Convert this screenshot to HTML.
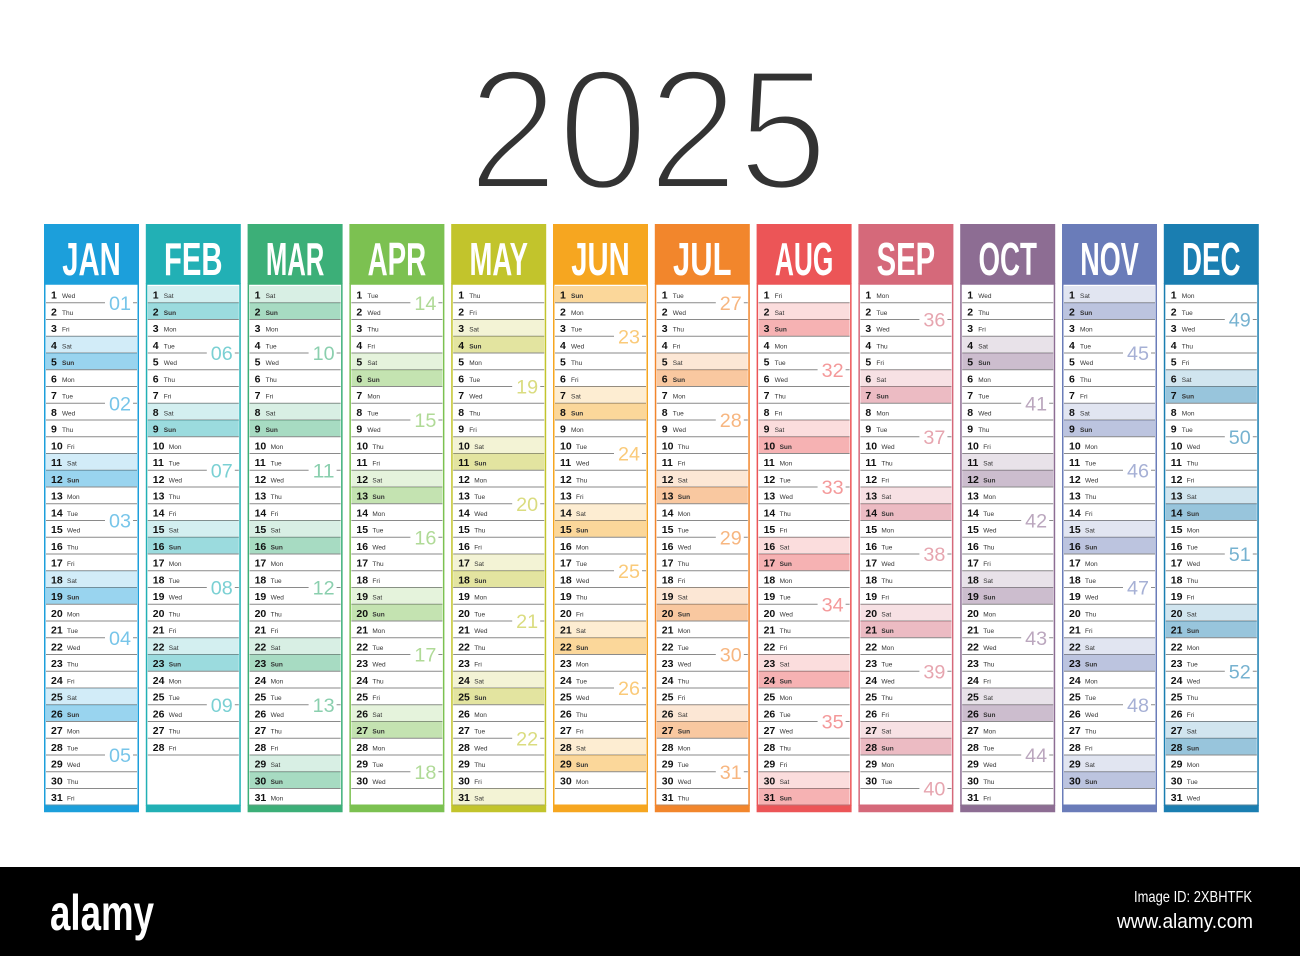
<!DOCTYPE html>
<html><head><meta charset="utf-8">
<style>
html,body{margin:0;padding:0;background:#fff;}
body{width:1300px;height:956px;position:relative;overflow:hidden;font-family:"Liberation Sans",sans-serif;}
</style></head>
<body>
<svg id="cal" width="1300" height="956" viewBox="0 0 1300 956" xmlns="http://www.w3.org/2000/svg">
<text x="648" y="189" text-anchor="middle" font-family="Liberation Sans, sans-serif" font-size="172" fill="#333" stroke="#fff" stroke-width="6" paint-order="normal" textLength="360" lengthAdjust="spacingAndGlyphs">2025</text>
<g id="months"></g>
<rect x="0" y="867" width="1300" height="89" fill="#000"/>
<text x="50" y="930" font-family="Liberation Sans, sans-serif" font-weight="bold" font-size="50" fill="#fff" textLength="104" lengthAdjust="spacingAndGlyphs">alamy</text>
<text x="1252" y="902" text-anchor="end" font-size="16" fill="#fff" textLength="118" lengthAdjust="spacingAndGlyphs">Image ID: 2XBHTFK</text>
<text x="1253" y="928" text-anchor="end" font-size="20" fill="#fff" textLength="136" lengthAdjust="spacingAndGlyphs">www.alamy.com</text>
</svg>
<script>
const monthNames=["JAN","FEB","MAR","APR","MAY","JUN","JUL","AUG","SEP","OCT","NOV","DEC"];
const monthDays=[31,28,31,30,31,30,31,31,30,31,30,31];
const monthColors=["#1c9fdb","#22b0b5","#3caf78","#7cc151","#c2c42c","#f6a620","#f2862c","#ec5557","#d5697a","#8d6d93","#6a7cb9","#1a7eb1"];
const dayNames=["Sun","Mon","Tue","Wed","Thu","Fri","Sat"];
const year=2025;
const NS="http://www.w3.org/2000/svg";
const g=document.getElementById('months');
function el(tag,attrs,parent){const e=document.createElementNS(NS,tag);for(const k in attrs)e.setAttribute(k,attrs[k]);parent.appendChild(e);return e;}
const x0=44,pitch=101.8,colW=95,headTop=224,headH=60,rowTop=286,rowH=16.75;
function weekNum(d){const t=new Date(Date.UTC(d.getFullYear(),d.getMonth(),d.getDate()));const day=t.getUTCDay()||7;t.setUTCDate(t.getUTCDate()+4-day);const ys=new Date(Date.UTC(t.getUTCFullYear(),0,1));return Math.ceil(((t-ys)/86400000+1)/7);}
monthNames.forEach((m,i)=>{
  const x=x0+i*pitch,c=monthColors[i];
  const mg=el('g',{},g);
  
  
  const hd=el('rect',{x:x,y:headTop,width:colW,height:headH,fill:c},mg);
  
  
  const ht=el('text',{x:x+colW/2,y:headTop+51,'text-anchor':'middle','font-size':46,'font-weight':'bold',fill:'#fff','font-family':'Liberation Sans, sans-serif',textLength:m.length*19.5,lengthAdjust:'spacingAndGlyphs'},mg);
  ht.textContent=m;
  
  
  const box=el('rect',{x:x+0.75,y:rowTop-2,width:colW-1.5,height:31*rowH+2,fill:'none',stroke:c,'stroke-width':1.5},mg);
  
  
  for(let d=1;d<=monthDays[i];d++){
    const dt=new Date(year,i,d),wd=dt.getDay(),y=rowTop+(d-1)*rowH;
    const row=el('g',{},mg);
    
    
    if(wd===6||wd===0){el('rect',{x:x+2,y:y,width:colW-4,height:rowH,fill:c,'fill-opacity':wd===6?0.2:0.45},row);}
    el('line',{x1:x+2,x2:x+colW-2,y1:y+rowH,y2:y+rowH,stroke:'#8a8a8a','stroke-width':1},row);
    const dn=el('text',{x:x+7,y:y+12.5,'font-size':10.5,'font-weight':'bold',fill:'#111'},row);dn.textContent=d;
    const wn=el('text',{x:x+(d>9?23:18),y:y+12,'font-size':6.5,'font-weight':wd===0?'bold':'normal',fill:'#333'},row);wn.textContent=dayNames[wd];
    if(wd===2||(i===0&&d===1)){
      const wk=weekNum(dt),yy=y+rowH;
      if(!(i===11&&wk===1)){
        el('rect',{x:x+colW-34,y:yy-9,width:28,height:18,fill:'#fff'},row);
        const t=el('text',{x:x+colW-8,y:yy+7,'text-anchor':'end','font-size':19,fill:c,'fill-opacity':0.6,textLength:22,lengthAdjust:'spacingAndGlyphs'},row);
        t.textContent=String(wk).padStart(2,'0');
        
        
      }
    }
  }
  const bb=el('rect',{x:x,y:rowTop+31*rowH,width:colW,height:7,fill:c},mg);
  
  
});
</script>
</body></html>
